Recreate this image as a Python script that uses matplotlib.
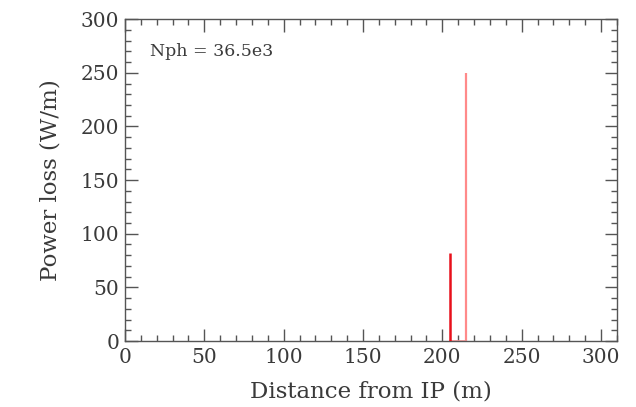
import matplotlib
matplotlib.use("Agg")
import matplotlib.pyplot as plt
from matplotlib.ticker import MultipleLocator

# power loss spikes
dark_x = [205.0]
dark_y = [82.0]
light_x = [215.0]
light_y = [250.0]
light_base = [205.0, 215.0]  # pale trace along the floor between the spikes
label_text = "Nph = 36.5e3"

plt.rcParams["font.family"] = ["DejaVu Serif"]
ink = "#3a3a3a"

fig = plt.figure(figsize=(6.36, 4.07), dpi=100)
ax = fig.add_axes([0.1965, 0.162, 0.7735, 0.791])

ax.vlines(dark_x, 0, dark_y, color="#e8101a", lw=1.8, zorder=3)
ax.vlines(light_x, 0, light_y, color="#ff8a8a", lw=1.6, zorder=2)
ax.plot(light_base, [0.4, 0.4], color="#ff9a9a", lw=1.2, zorder=2)

ax.set_xlim(0, 310)
ax.set_ylim(0, 300)
ax.xaxis.set_major_locator(MultipleLocator(50))
ax.xaxis.set_minor_locator(MultipleLocator(10))
ax.yaxis.set_major_locator(MultipleLocator(50))
ax.yaxis.set_minor_locator(MultipleLocator(10))
ax.tick_params(which="both", direction="in", top=True, right=True,
               color="#555555", labelcolor=ink, labelsize=14.5, width=1.0)
ax.tick_params(which="major", length=9)
ax.tick_params(which="minor", length=4)
ax.tick_params(axis="x", pad=5)
ax.tick_params(axis="y", pad=4)
for s in ax.spines.values():
    s.set_color("#555555")
    s.set_linewidth(1.0)

ax.set_xlabel("Distance from IP (m)", fontsize=16.5, color=ink, labelpad=10)
ax.set_ylabel("Power loss (W/m)", fontsize=16.5, color=ink, labelpad=14)
ax.text(0.05, 0.9, label_text, transform=ax.transAxes, fontsize=12.5,
        color=ink, va="center", ha="left")

fig.savefig("out.png", dpi=100)
